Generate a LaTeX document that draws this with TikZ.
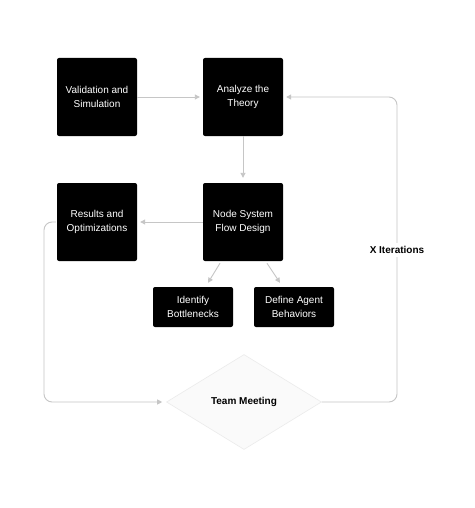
\documentclass[tikz,border=0pt]{standalone}
\usepackage{fontspec}
\setmainfont{Liberation Sans}
\usetikzlibrary{arrows.meta,shapes.geometric}
\definecolor{linec}{HTML}{C6C6C6}
\definecolor{diafill}{HTML}{FAFAFA}
\definecolor{diadraw}{HTML}{EBEBEB}
\begin{document}
\begin{tikzpicture}[x=1pt,y=-1pt,
  bigbox/.style={fill=black,text=white,rounded corners=2pt,minimum width=80pt,minimum height=78pt,align=center,inner sep=0pt,font=\fontsize{10}{14}\selectfont},
  smallbox/.style={fill=black,text=white,rounded corners=2pt,minimum width=80pt,minimum height=40pt,align=center,inner sep=0pt,font=\fontsize{10}{14}\selectfont},
  arr/.style={draw=linec,line width=0.9pt,-{Triangle[length=5pt,width=5pt]}},
  meet/.style={diamond,fill=diafill,draw=diadraw,line width=0.6pt,minimum width=155pt,minimum height=95pt,inner sep=0pt,aspect=1.63,font=\bfseries\fontsize{10}{12}\selectfont}
]
\useasboundingbox[fill=white] (0,0) rectangle (474,508);
\node[bigbox] (val) at (97,97) {Validation and\\Simulation};
\node[bigbox] (ana) at (243,97) {Analyze the\\Theory};
\node[bigbox] (res) at (97,222) {Results and\\Optimizations};
\node[bigbox] (nsf) at (243,222) {Node System\\Flow Design};
\node[smallbox] (idb) at (193,307) {Identify\\Bottlenecks};
\node[smallbox] (dab) at (294,307) {Define Agent\\Behaviors};
\node[meet] (dia) at (244,402) {Team Meeting};
\coordinate (rc) at (397,97);
\coordinate (lc1) at (44,222);
\coordinate (lc2) at (44,402);
\draw[arr,shorten >=3pt] (val.east) -- (ana.west);
\draw[arr,shorten >=5pt] (ana.south) -- (nsf.north);
\draw[arr,shorten >=3pt] (nsf.west) -- (res.east);
\draw[arr] ([xshift=-23pt,yshift=-2pt]nsf.south) -- ([xshift=15pt,yshift=4pt]idb.north);
\draw[arr] ([xshift=24pt,yshift=-2pt]nsf.south) -- ([xshift=-14pt,yshift=4pt]dab.north);
\draw[arr,rounded corners=8pt,shorten >=3pt] (dia.east) -| (rc) -- (ana.east);
\draw[arr,rounded corners=8pt,shorten >=4pt] ([xshift=-1pt]res.west) -- (lc1) -- (lc2) -- (dia.west);
\node[fill=white,font=\bfseries\fontsize{10}{12}\selectfont,inner sep=3pt] (xit) at (397,250) {X Iterations};
\end{tikzpicture}
\end{document}
